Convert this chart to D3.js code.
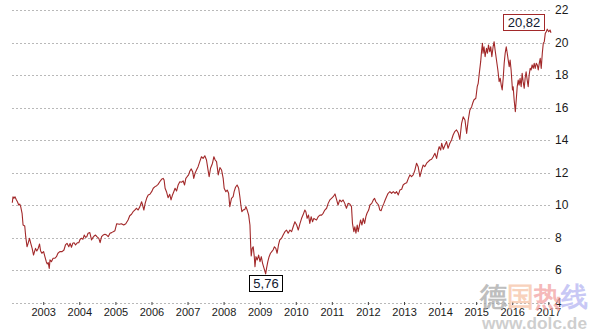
<!DOCTYPE html>
<html>
<head>
<meta charset="utf-8">
<script src="https://cdn.jsdelivr.net/npm/d3@7"></script>
<style>
  html, body { margin: 0; padding: 0; background: #fff; }
  svg { display: block; }
  text { font-family: "Liberation Sans", Arial, sans-serif; }
</style>
</head>
<body>
<script>
// Weekly-ish closing prices, grouped by year: [date (MM-DD), close]
const close2002 = [["02-22",10.14],["03-01",10.51],["03-11",10.41],["03-21",10.51],["04-05",10.31],["04-15",10.2],["04-28",10.0],["05-08",10.06],["05-18",9.9],["06-01",9.49],
  ["06-11",8.77],["06-28",8.71],["07-08",8.05],["07-21",7.43],["08-01",7.64],["08-15",7.95],["08-28",7.64],["09-11",7.33],["09-25",6.92],["10-05",7.13],
  ["10-15",7.33],["10-28",7.17],["11-11",7.33],["11-25",7.6],["12-05",7.19],["12-18",7.03]];
const close2003 = [["01-05",7.13],["01-18",6.82],["02-01",6.51],["02-11",6.37],["02-21",6.45],["03-03",6.1],["03-11",6.62],["03-25",6.51],["04-11",6.72],["04-28",6.72],
  ["05-15",6.82],["05-30",7.03],["06-18",7.13],["07-11",7.13],["07-30",7.23],["08-14",7.54],["08-30",7.64],["09-17",7.43],["09-30",7.64],["10-14",7.4],
  ["10-27",7.64],["11-10",7.68],["11-24",7.54],["12-14",7.68],["12-27",7.68]];
const close2004 = [["01-10",7.89],["01-24",7.95],["02-07",7.89],["02-20",8.15],["03-04",8.01],["03-17",8.05],["03-30",8.26],["04-17",8.3],["05-04",7.85],["05-17",7.99],
  ["05-30",8.09],["06-14",8.15],["06-27",8.05],["07-17",7.95],["07-30",7.68],["08-14",8.05],["08-30",8.15],["09-17",8.2],["10-04",8.15],["10-20",8.05],
  ["11-07",8.26],["11-24",8.3],["12-10",8.36],["12-27",8.42]];
const close2005 = [["01-14",8.85],["02-09",8.81],["03-03",8.85],["03-26",8.77],["04-16",8.85],["05-09",9.08],["05-26",9.34],["06-13",9.43],["06-29",9.59],["07-16",9.69],
  ["08-03",9.8],["08-19",9.69],["09-06",9.9],["09-23",10.2],["10-03",10.0],["10-16",9.69],["10-29",10.1],["11-13",10.41],["11-29",10.62],["12-16",10.66]];
const close2006 = [["01-03",10.82],["01-19",11.03],["02-06",11.13],["02-23",11.19],["03-09",11.27],["03-26",11.43],["04-13",11.58],["04-29",11.64],["05-09",11.54],["05-19",11.03],
  ["06-02",10.82],["06-18",10.45],["07-05",10.66],["07-18",10.31],["08-02",10.62],["08-15",10.82],["08-28",11.03],["09-12",10.86],["09-28",11.23],["10-15",11.43],
  ["11-02",11.4],["11-18",11.48],["12-02",11.23],["12-15",11.64],["12-28",11.74]];
const close2007 = [["01-12",11.85],["01-25",12.09],["02-08",12.22],["02-22",12.05],["03-05",11.64],["03-18",11.95],["04-02",12.15],["04-18",12.36],["05-05",12.67],["05-22",12.97],
  ["06-08",12.87],["06-25",13.03],["07-12",12.77],["07-28",12.15],["08-08",11.74],["08-22",12.26],["09-11",12.57],["09-25",12.97],["10-08",12.77],["10-22",12.67],
  ["11-08",11.85],["11-25",12.3],["12-12",12.15],["12-28",11.64]];
const close2008 = [["01-07",11.03],["01-24",10.82],["02-07",10.92],["02-21",10.72],["03-04",9.9],["03-21",10.41],["04-07",10.51],["04-17",10.82],["05-01",11.09],["05-17",11.23],
  ["06-02",11.03],["06-14",10.51],["06-24",10.0],["07-04",9.59],["07-17",9.69],["08-04",9.73],["08-14",9.9],["08-27",9.69],["09-11",9.38],["09-24",8.77],
  ["10-02",7.43],["10-07",6.86],["10-17",7.33],["10-27",7.43],["11-07",6.82],["11-14",6.2],["11-24",6.82],["12-07",6.62],["12-21",6.92]];
const close2009 = [["01-04",6.51],["01-17",6.82],["01-30",6.41],["02-14",6.1],["03-02",5.76],["03-11",6.1],["03-24",6.51],["04-06",6.82],["04-20",7.03],["05-03",7.13],
  ["05-16",7.23],["05-30",7.43],["06-13",7.33],["06-26",7.03],["07-10",7.54],["07-23",7.85],["08-10",7.95],["08-26",8.15],["09-13",8.36],["09-29",8.46],
  ["10-16",8.26],["11-03",8.46],["11-20",8.36],["12-06",8.66],["12-23",8.97]];
const close2010 = [["01-10",8.77],["01-26",8.46],["02-13",8.87],["03-01",9.18],["03-15",9.38],["04-03",9.69],["04-13",9.59],["04-26",9.18],["05-10",9.38],["05-23",8.87],
  ["06-06",9.28],["06-20",8.97],["07-03",9.18],["07-16",9.12],["07-30",9.08],["08-16",9.28],["09-03",9.38],["09-19",9.38],["10-05",9.49],["10-22",9.69],
  ["11-09",9.8],["11-25",10.1],["12-12",10.31],["12-29",10.41]];
const close2011 = [["01-15",10.51],["02-02",10.68],["02-19",10.31],["03-05",10.0],["03-22",10.31],["04-09",10.2],["04-25",10.31],["05-12",10.1],["05-29",9.8],["06-15",10.1],
  ["07-02",10.06],["07-19",9.9],["07-29",8.87],["08-12",8.36],["08-22",8.66],["09-02",8.26],["09-15",8.77],["09-25",8.36],["10-05",8.66],["10-19",9.08],
  ["11-02",8.77],["11-15",9.18],["11-29",8.87],["12-12",9.28],["12-23",9.49]];
const close2012 = [["01-09",9.69],["01-22",10.0],["02-09",10.1],["02-25",10.31],["03-09",10.41],["03-22",10.2],["04-04",10.1],["04-18",10.0],["05-01",9.69],["05-14",9.65],
  ["05-28",9.9],["06-11",10.1],["06-24",10.31],["07-08",10.51],["07-24",10.72],["08-11",10.82],["08-28",10.72],["09-14",10.82],["10-02",10.72],["10-18",10.82],
  ["11-04",10.62],["11-20",10.92],["12-08",10.97],["12-23",11.23]];
const close2013 = [["01-11",11.33],["01-28",11.37],["02-14",11.64],["03-01",11.85],["03-18",11.74],["04-04",11.85],["04-21",12.15],["05-08",12.57],["05-24",12.36],["06-11",11.74],
  ["06-28",12.15],["07-14",12.46],["07-30",12.36],["08-18",12.57],["09-03",12.67],["09-20",12.77],["10-07",12.81],["10-23",12.97],["11-10",13.18],["11-27",12.87],
  ["12-13",13.38],["12-23",13.59]];
const close2014 = [["01-07",13.38],["01-17",13.8],["02-03",13.43],["02-20",13.69],["03-07",13.9],["03-23",13.49],["04-10",13.8],["04-27",14.0],["05-13",14.31],["05-29",14.51],
  ["06-17",14.62],["07-03",14.45],["07-20",14.04],["08-07",15.03],["08-23",15.43],["09-10",15.23],["09-27",14.41],["10-13",15.23],["10-30",15.85],["11-17",16.05],
  ["11-27",16.26],["12-09",16.46],["12-29",16.57]];
const close2015 = [["01-12",17.28],["01-22",17.49],["02-02",18.1],["02-16",18.82],["02-26",19.54],["03-06",19.95],["03-12",19.34],["03-22",19.74],["04-02",19.13],["04-16",19.64],
  ["04-26",19.34],["05-06",19.85],["05-19",19.43],["05-29",19.74],["06-09",19.13],["06-22",19.74],["07-02",20.05],["07-12",19.54],["07-26",18.92],["08-09",18.31],
  ["08-22",17.59],["09-02",17.8],["09-12",17.38],["09-22",17.08],["10-02",17.8],["10-12",18.72],["10-22",19.34],["11-02",19.74],["11-12",19.34],["11-22",18.92],
  ["12-02",18.51],["12-11",18.92],["12-21",18.31]];
const close2016 = [["01-04",17.08],["01-11",17.28],["01-21",16.46],["02-02",15.74],["02-11",16.46],["02-21",17.28],["03-02",17.69],["03-11",17.38],["03-21",17.8],["04-01",17.28],
  ["04-11",18.1],["04-21",17.59],["05-02",17.18],["05-11",17.8],["05-21",18.2],["06-01",17.69],["06-11",17.28],["06-21",18.0],["07-01",18.41],["07-11",18.31],
  ["07-21",18.62],["08-01",18.41],["08-11",18.72],["08-21",18.41],["09-01",18.72],["09-11",18.62],["09-21",18.31],["10-01",18.72],["10-11",19.03],["10-21",18.41],
  ["11-01",19.34],["11-11",19.95],["11-21",20.05],["12-01",20.56],["12-11",20.66],["12-21",20.82]];
const close2017 = [["01-05",20.66],["01-18",20.77],["01-28",20.6]];

const yearlyCloses = [
  [2002, close2002], [2003, close2003], [2004, close2004], [2005, close2005],
  [2006, close2006], [2007, close2007], [2008, close2008], [2009, close2009],
  [2010, close2010], [2011, close2011], [2012, close2012], [2013, close2013],
  [2014, close2014], [2015, close2015], [2016, close2016], [2017, close2017]
];

// Axis labels
const yTicks = [4, 6, 8, 10, 12, 14, 16, 18, 20, 22];
const yearLabels = ["2003","2004","2005","2006","2007","2008","2009","2010","2011","2012","2013","2014","2015","2016","2017"];

const W = 595, H = 335;
const parse = d3.utcParse("%Y-%m-%d");
const data = yearlyCloses.flatMap(([yr, rows]) =>
  rows.map(([md, v]) => ({ date: parse(`${yr}-${md}`), value: v })));

const de = d3.formatLocale({ decimal: ",", thousands: ".", grouping: [3], currency: ["", " €"] });
const fmt = de.format(".2f");

const svg = d3.select("body").append("svg").attr("width", W).attr("height", H);

const x = d3.scaleUtc().domain(d3.extent(data, d => d.date)).range([12.3, 551]);
const y = d3.scaleLinear().domain([4, 22]).range([302.5, 10]);

// horizontal dashed grid
svg.append("g").selectAll("line").data(yTicks).join("line")
  .attr("x1", 12).attr("x2", 550)
  .attr("y1", d => Math.round(y(d)) + 0.5).attr("y2", d => Math.round(y(d)) + 0.5)
  .attr("stroke", "#b9b9b9").attr("stroke-width", 1).attr("stroke-dasharray", "2,2");

// value axis on the right
const yAxis = svg.append("g").attr("transform", "translate(550,0)")
  .call(d3.axisRight(y).tickValues(yTicks).tickSize(0).tickPadding(5).tickFormat(d3.format("d")));
yAxis.select(".domain").remove();
yAxis.selectAll("text").attr("font-size", 12).attr("fill", "#1a1a1a")
  .attr("font-family", "'Liberation Sans', Arial, sans-serif");

// year axis
const yearDates = yearLabels.map(s => parse(`${s}-01-01`));
const xAxis = svg.append("g").attr("transform", "translate(0,302)")
  .call(d3.axisBottom(x).tickValues(yearDates).tickSize(3).tickPadding(3).tickFormat(d3.utcFormat("%Y")));
xAxis.select(".domain").remove();
xAxis.selectAll(".tick line").attr("stroke", "#444");
xAxis.selectAll("text").attr("font-size", 11).attr("fill", "#1a1a1a")
  .attr("font-family", "'Liberation Sans', Arial, sans-serif");

// price line
const line = d3.line().x(d => x(d.date)).y(d => y(d.value));
svg.append("path").datum(data)
  .attr("d", line)
  .attr("fill", "none")
  .attr("stroke", "#a2292a")
  .attr("stroke-width", 1.1)
  .attr("stroke-linejoin", "round");

// high / low markers
const hi = data.reduce((a, b) => (b.value > a.value ? b : a));
const lo = data.reduce((a, b) => (b.value < a.value ? b : a));

function valueBox(pt, boxX, boxY, stroke) {
  const g = svg.append("g");
  const t = g.append("text")
    .attr("font-size", 13).attr("fill", "#101830")
    .attr("text-anchor", "middle")
    .text(fmt(pt.value));
  const w = t.node().getComputedTextLength() + 8, h = 16;
  const bx = boxX(w), by = boxY(h);
  g.insert("rect", "text")
    .attr("x", Math.round(bx) + 0.5).attr("y", Math.round(by) + 0.5)
    .attr("width", Math.round(w)).attr("height", h)
    .attr("fill", "#fff").attr("stroke", stroke).attr("stroke-width", 1);
  t.attr("x", Math.round(bx) + 0.5 + Math.round(w) / 2).attr("y", Math.round(by) + 13);
}
valueBox(hi, w => x(hi.date) - 4 - w, h => y(hi.value) - h + 1, "#a2292a");
valueBox(lo, w => x(lo.date) - w / 2, h => y(lo.value) + 1, "#000");

// site watermark
const wm = svg.append("g").attr("pointer-events", "none");
const marks = [["德", "#a9a9a9"], ["国", "#f6c3a6"], ["热", "#f2a2a2"], ["线", "#b6b6f2"]];
wm.selectAll("text.cn").data(marks).join("text")
  .attr("class", "cn")
  .attr("x", (d, i) => 480 + i * 27)
  .attr("y", 306)
  .attr("font-family", "'Noto Sans CJK SC', sans-serif")
  .attr("font-weight", 700)
  .attr("font-size", 27)
  .attr("fill", d => d[1])
  .attr("fill-opacity", 0.75)
  .text(d => d[0]);
wm.append("text")
  .attr("x", 482).attr("y", 329)
  .attr("font-size", 16).attr("font-weight", 700)
  .attr("fill", "#c6c6c6").attr("fill-opacity", 0.85)
  .attr("textLength", 105).attr("lengthAdjust", "spacingAndGlyphs")
  .text("www.dolc.de");
</script>
</body>
</html>
